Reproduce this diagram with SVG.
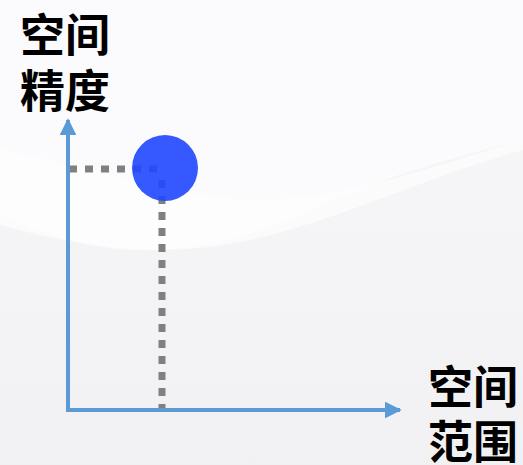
<svg xmlns="http://www.w3.org/2000/svg" width="523" height="465" viewBox="0 0 523 465">
<style>
.lbl{font-family:"Noto Sans CJK SC","Noto Sans",sans-serif;font-weight:bold;font-size:45px;fill:#000}
.axis{stroke:#5b9bd5;stroke-width:4;fill:none}
.dot{stroke:#808080;stroke-width:7;stroke-dasharray:8 8;fill:none}
</style>
<defs>
<marker id="arr" viewBox="0 0 10 10" refX="9" refY="5" markerWidth="4.2" markerHeight="4.2" orient="auto" markerUnits="strokeWidth">
<path d="M0,0 L10,5 L0,10 Z" fill="#5b9bd5"/>
</marker>
<linearGradient id="bg" x1="0" y1="0" x2="0" y2="1">
<stop offset="0" stop-color="#f8f8fa"/>
<stop offset="1" stop-color="#f1f1f3"/>
</linearGradient>
</defs>
<rect width="523" height="465" fill="url(#bg)"/>
<path d="M0,0 H523 V140 C440,160 360,185 300,215 C230,245 150,262 70,240 C40,232 15,222 0,215 Z" fill="#fbfbfd"/>
<path d="M0,150 C80,165 160,190 240,200 C330,205 420,170 523,140 L523,150 C430,175 340,220 250,240 C170,258 90,250 0,225 Z" fill="#ffffff" opacity="0.6"/>
<g id="connectors">
<path class="dot" d="M69,169 H165"/>
<path class="dot" d="M162,180 V412"/>
<path class="axis" d="M68,410 V120" marker-end="url(#arr)"/>
<path class="axis" d="M66,410 H400" marker-end="url(#arr)"/>
</g>
<g id="point">
<circle cx="165" cy="168" r="33" fill="#1f47ff" opacity="0.9"/>
</g>
<g id="y-label">
<text class="lbl" x="20" y="52">空间</text>
<text class="lbl" x="20" y="108">精度</text>
</g>
<g id="x-label">
<text class="lbl" x="428" y="404">空间</text>
<text class="lbl" x="428" y="459">范围</text>
</g>
</svg>
